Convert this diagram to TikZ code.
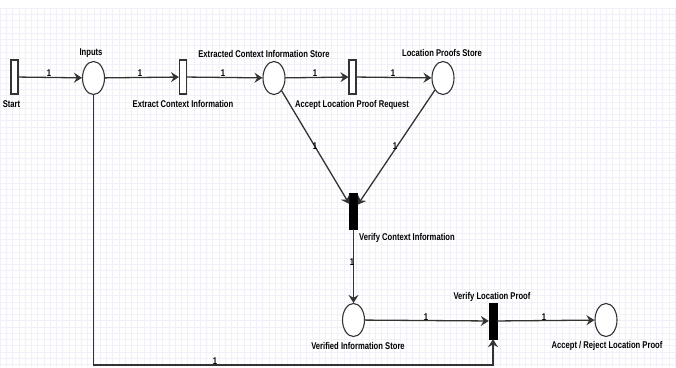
\documentclass[tikz,border=0pt]{standalone}
\usepackage{fontspec}
\newfontfamily\lbl{Liberation Sans}[FakeStretch=0.78]
\usetikzlibrary{shapes.geometric,arrows.meta}
\definecolor{gridc}{HTML}{F0F0F9}
\definecolor{linec}{HTML}{333333}
\begin{document}
\begin{tikzpicture}[x=1pt,y=-1pt,
  plc/.style={ellipse,draw=linec,line width=1.1pt,fill=white,minimum width=22pt,minimum height=33pt,inner sep=0pt},
  twhite/.style={rectangle,draw=linec,line width=1.1pt,fill=white,minimum width=7pt,minimum height=34pt,inner sep=0pt},
  tblack/.style={rectangle,draw=black,fill=black,minimum width=8pt,minimum height=36pt,inner sep=0pt},
  flow/.style={draw=linec,line width=1.3pt,-{Stealth[length=8pt,width=10pt,inset=2.8pt]}},
  txt/.style={font=\lbl\bfseries\fontsize{9.8}{11}\selectfont,inner sep=0pt,anchor=base,text=black},
  wt/.style={txt}]
\useasboundingbox (0,0) rectangle (676,367);
\fill[white] (0,0) rectangle (676,367);
\foreach \i in {0,...,108} \draw[gridc,line width=0.5pt] (\i*6.25,8) -- (\i*6.25,367);
\foreach \j in {0,...,57} \draw[gridc,line width=0.5pt] (0,8+\j*6.25) -- (676,8+\j*6.25);

\node[twhite] (start) at (14.5,77) {};
\node[plc] (inp) at (93.5,78) {};
\node[twhite] (ext) at (183,77) {};
\node[plc] (ecis) at (274,78) {};
\node[twhite] (acc) at (352.5,77) {};
\node[plc] (lps) at (443,78) {};
\node[tblack] (vc) at (353.5,211) {};
\node[plc] (vis) at (353.5,320) {};
\node[tblack] (vlp) at (493,321) {};
\node[plc] (arlp) at (606,320) {};
\coordinate (c1) at (93.5,365);
\coordinate (c2) at (493,365);

\node[txt] (tstart) at (11.5,107) {Start};
\node[txt] (tinp) at (91,55) {Inputs};
\node[txt] (text) at (183,107) {Extract Context Information};
\node[txt] (tecis) at (264,57) {Extracted Context Information Store};
\node[txt] (tacc) at (352,107) {Accept Location Proof Request};
\node[txt] (tlps) at (442,56) {Location Proofs Store};
\node[txt,anchor=base west] (tvc) at (359,240) {Verify Context Information};
\node[txt] (tvis) at (358,349) {Verified Information Store};
\node[txt] (tvlp) at (492,299) {Verify Location Proof};
\node[txt] (tarlp) at (607,348) {Accept / Reject Location Proof};

\draw[flow] (start) -- (inp);
\draw[flow] (inp) -- (ext);
\draw[flow] (ext) -- (ecis);
\draw[flow] (ecis) -- (acc);
\draw[flow] (acc) -- (lps);
\draw[flow] (ecis) -- (vc);
\draw[flow] (lps) -- (vc);
\draw[flow] (vc) -- (vis);
\draw[flow] (vis) -- (vlp);
\draw[flow] (vlp) -- (arlp);
\draw[flow] (inp) -- (c1) -- (c2) -- (vlp);

\node[wt] (w1) at (49,76) {1};
\node[wt] (w2) at (140,76) {1};
\node[wt] (w3) at (223,76) {1};
\node[wt] (w4) at (315,76) {1};
\node[wt] (w5) at (393,76) {1};
\node[wt] (w6) at (315,149) {1};
\node[wt] (w7) at (395,149) {1};
\node[wt] (w8) at (352,265) {1};
\node[wt] (w9) at (426,320) {1};
\node[wt] (w10) at (544,320) {1};
\node[wt] (w11) at (215,364) {1};
\end{tikzpicture}
\end{document}
